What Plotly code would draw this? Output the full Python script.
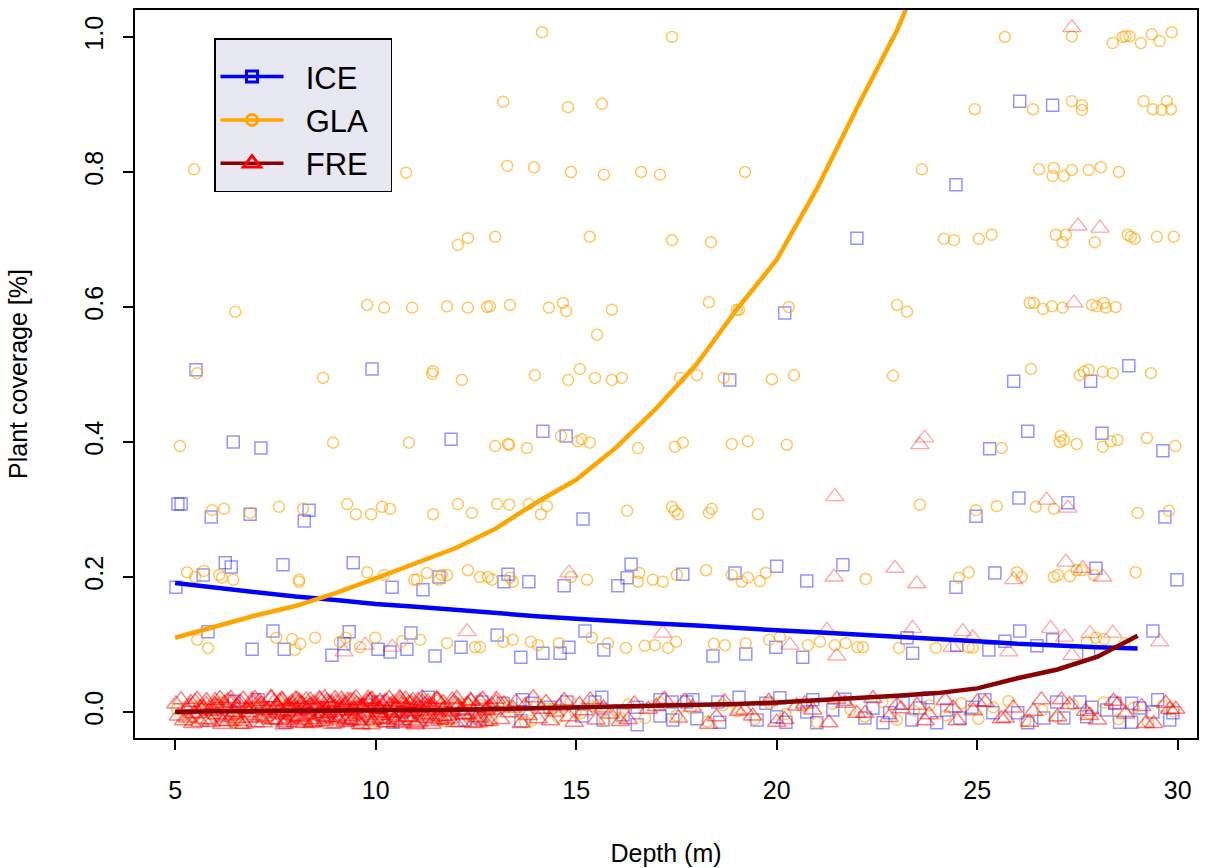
import plotly.graph_objects as go

# ---------------- data ----------------
# fitted model curves, evaluated at integer depths
fit_depth = list(range(5, 30))
ice_fit = [0.191, 0.184, 0.177, 0.171, 0.166, 0.160, 0.156, 0.151, 0.146, 0.142,
           0.138, 0.134, 0.131, 0.128, 0.124, 0.121, 0.118, 0.115, 0.112, 0.108,
           0.105, 0.101, 0.098, 0.096, 0.094]
gla_fit = [0.110, 0.127, 0.143, 0.157, 0.176, 0.198, 0.221, 0.243, 0.272, 0.310,
           0.344, 0.392, 0.450, 0.515, 0.596, 0.670, 0.775, 0.895, 1.010, 1.150,
           1.320, 1.510, 1.730, 1.980, 2.270]
fre_fit = [0.0005, 0.0007, 0.001, 0.0013, 0.0017, 0.0022, 0.003, 0.0035, 0.0045, 0.0055,
           0.0065, 0.0075, 0.0085, 0.010, 0.012, 0.014, 0.017, 0.020, 0.024, 0.028,
           0.035, 0.050, 0.063, 0.082, 0.113]

# ICE observations (above zero)
ice_depth = [26.06, 26.88, 24.47, 22.0, 20.20,
             5.52, 9.91, 18.83, 25.91, 27.83, 28.78,
             6.45, 7.14, 11.88, 14.17, 14.75, 25.31, 26.26, 28.11, 29.63,
             5.07, 5.15, 5.90, 6.87, 8.22, 8.34, 15.17, 24.97, 26.04, 27.26, 29.68,
             5.02, 5.70, 6.25, 6.40, 7.69, 9.44, 10.41, 11.18, 11.58, 13.20, 13.30, 13.82,
             14.70, 16.04, 16.27, 16.37, 17.66, 18.96, 20.0, 20.75, 21.65, 24.47, 25.44,
             27.96, 29.98,
             5.82, 6.92, 7.44, 7.72, 8.91, 9.34, 9.21, 10.06, 10.36, 10.78, 10.88, 11.48,
             12.13, 13.03, 13.62, 14.17, 14.60, 14.82, 15.22, 15.69, 18.41, 19.23, 19.98,
             20.65, 23.25, 23.39, 24.49, 25.29, 25.69, 26.06, 26.49, 26.88, 27.78, 29.38]
ice_cover = [0.905, 0.899, 0.781, 0.702, 0.591,
             0.507, 0.508, 0.492, 0.490, 0.490, 0.513,
             0.400, 0.391, 0.404, 0.416, 0.409, 0.390, 0.416, 0.413, 0.387,
             0.308, 0.308, 0.289, 0.293, 0.283, 0.299, 0.286, 0.290, 0.317, 0.310, 0.289,
             0.185, 0.203, 0.221, 0.215, 0.218, 0.221, 0.185, 0.181, 0.200, 0.193, 0.204, 0.193,
             0.187, 0.187, 0.199, 0.219, 0.204, 0.206, 0.216, 0.194, 0.218, 0.185, 0.206,
             0.213, 0.196,
             0.119, 0.093, 0.120, 0.093, 0.084, 0.119, 0.101, 0.093, 0.089, 0.093, 0.117, 0.083,
             0.096, 0.114, 0.081, 0.087, 0.087, 0.096, 0.120, 0.092, 0.083, 0.086, 0.096,
             0.081, 0.110, 0.087, 0.099, 0.092, 0.105, 0.120, 0.098, 0.107, 0.087, 0.120]
# ICE observations in the zero band
ice_depth_low = [6.47, 7.07, 7.74, 8.22, 8.66, 8.86, 9.39, 9.79, 10.06, 10.43, 10.68,
                 11.31, 11.73, 12.23, 12.60, 12.65, 13.18, 13.62, 13.67, 13.90, 14.35, 14.77,
                 15.14, 15.47, 15.64, 15.67, 16.17, 16.52, 16.52, 17.09, 17.09, 17.39, 17.41,
                 17.76, 17.91, 18.01, 18.58, 18.53, 19.06, 19.51, 19.73, 20.0, 20.08, 20.23,
                 20.75, 20.90, 21.0, 21.40, 21.70, 22.20, 22.40, 22.65, 22.82, 23.15, 23.37,
                 23.57, 23.77, 23.99, 24.24, 24.57, 24.87, 25.19, 25.39, 26.01, 26.26, 26.66,
                 26.98, 27.16, 27.56, 27.73, 27.86, 28.23, 28.43, 28.55, 28.85, 28.85, 29.05,
                 29.38, 29.50, 29.80, 29.88]
ice_cover_low = [0.016, 0.018, -0.015, 0.007, -0.004, 0.006, -0.009, 0.010, 0.015, -0.015, 0.0,
                 0.022, -0.004, -0.012, -0.009, 0.015, 0.013, -0.013, 0.018, 0.013, 0.007, 0.015,
                 -0.006, 0.015, 0.022, -0.012, -0.004, 0.007, -0.019, 0.018, -0.006, 0.015, -0.012,
                 0.015, 0.018, -0.010, -0.015, 0.015, 0.022, -0.012, 0.013, -0.007, 0.021, -0.015,
                 0.0, 0.018, -0.016, 0.003, 0.019, -0.009, 0.006, -0.016, -0.001, 0.013, -0.012,
                 0.006, 0.021, -0.016, 0.003, -0.009, 0.007, 0.018, -0.001, -0.001, -0.016, -0.009,
                 0.015, -0.009, 0.015, -0.007, 0.007, 0.003, 0.013, -0.015, 0.013, -0.015, 0.006,
                 0.0, 0.018, -0.012, -0.001]

# GLA observations (above zero)
gla_depth = [14.15, 17.39, 25.69, 27.36, 28.38, 28.63, 28.70, 28.80, 29.08, 29.35, 29.55, 29.85,
             13.18, 14.80, 15.64, 24.94, 26.39, 27.36, 27.61, 27.61, 29.15, 29.38, 29.60, 29.73, 29.83,
             5.47, 10.76, 13.28, 13.95, 14.87, 15.69, 16.62, 17.09, 19.21, 23.62, 26.54, 26.91,
             26.88, 27.16, 27.36, 27.78, 28.08, 28.53,
             12.05, 12.30, 12.98, 15.34, 17.39, 18.36, 24.17, 24.42, 25.04, 25.36, 26.96, 27.21,
             27.13, 27.93, 28.75, 28.83, 28.93, 29.48, 29.90,
             6.50, 9.79, 10.21, 10.91, 11.78, 12.30, 12.78, 12.85, 13.35, 14.32, 14.67, 14.75,
             15.89, 18.31, 19.01, 19.06, 20.30, 23.0, 23.25, 26.31, 26.41, 26.64, 26.86, 27.13,
             27.86, 27.98, 28.16, 28.21, 28.45, 15.52,
             5.55, 8.69, 11.41, 11.43, 12.15, 13.97, 14.80, 15.09, 15.47, 15.89, 16.14, 17.59,
             18.01, 18.68, 19.88, 20.43, 22.90, 26.34, 27.56, 27.66, 27.78, 28.13, 28.38, 29.33,
             5.12, 8.94, 10.83, 12.98, 13.33, 13.30, 13.77, 14.62, 15.04, 15.14, 15.34, 16.54,
             17.46, 17.66, 18.88, 19.28, 20.25, 25.61, 27.08, 27.16, 27.06, 27.48, 28.13, 28.33,
             28.50, 29.23, 29.94,
             5.92, 6.22, 6.87, 7.59, 8.19, 9.29, 9.51, 9.89, 10.16, 10.36, 11.43, 12.05, 12.40,
             13.03, 13.33, 13.82, 14.27, 14.12, 16.27, 17.39, 17.46, 17.54, 18.31, 18.38, 19.53,
             23.57, 24.97, 25.49, 26.46, 26.91, 29.0, 29.78,
             5.30, 5.50, 5.72, 6.10, 6.17, 6.45, 8.09, 8.09, 9.79, 10.21, 10.96, 11.03, 11.28,
             11.58, 11.65, 11.78, 12.30, 12.60, 12.80, 12.90, 13.35, 13.42, 14.87, 15.27, 16.57,
             16.54, 16.91, 17.16, 17.51, 18.24, 18.88, 19.13, 19.28, 19.58, 19.73, 22.22, 24.54,
             24.79, 25.99, 26.11, 26.91, 27.01, 27.31, 27.48, 27.61, 27.91, 28.95,
             5.55, 5.82, 7.52, 7.92, 7.99, 8.12, 8.49, 9.11, 9.26, 9.61, 9.99, 10.66, 11.11,
             11.78, 12.48, 12.60, 13.18, 13.42, 13.87, 14.05, 14.57, 15.39, 15.79, 16.24, 16.71,
             16.96, 17.29, 17.49, 18.43, 18.71, 19.23, 19.81, 20.08, 20.78, 21.08, 21.45, 21.72,
             22.02, 22.15, 23.05, 23.97, 24.79, 24.89, 27.73, 27.96, 28.16, 28.68]
gla_cover = [1.007, 1.0, 1.0, 1.001, 0.991, 1.0, 1.001, 1.001, 0.991, 1.004, 0.994, 1.007,
             0.904, 0.896, 0.901, 0.893, 0.893, 0.905, 0.899, 0.892, 0.905, 0.893, 0.892, 0.905, 0.893,
             0.804, 0.799, 0.809, 0.807, 0.800, 0.796, 0.800, 0.796, 0.800, 0.804, 0.804, 0.806,
             0.794, 0.794, 0.803, 0.803, 0.807, 0.800,
             0.692, 0.702, 0.704, 0.704, 0.699, 0.696, 0.701, 0.699, 0.701, 0.707, 0.707, 0.707,
             0.696, 0.696, 0.707, 0.704, 0.701, 0.704, 0.704,
             0.593, 0.603, 0.599, 0.599, 0.601, 0.599, 0.600, 0.601, 0.603, 0.599, 0.606, 0.594,
             0.596, 0.607, 0.596, 0.596, 0.600, 0.603, 0.593, 0.606, 0.606, 0.597, 0.601, 0.599,
             0.603, 0.601, 0.606, 0.599, 0.600, 0.559,
             0.502, 0.495, 0.501, 0.505, 0.492, 0.499, 0.492, 0.508, 0.495, 0.492, 0.495, 0.495,
             0.499, 0.495, 0.493, 0.499, 0.498, 0.508, 0.499, 0.504, 0.507, 0.504, 0.502, 0.502,
             0.394, 0.399, 0.399, 0.394, 0.396, 0.397, 0.391, 0.409, 0.401, 0.404, 0.399, 0.391,
             0.393, 0.399, 0.397, 0.401, 0.396, 0.391, 0.409, 0.403, 0.400, 0.397, 0.393, 0.401,
             0.403, 0.406, 0.394,
             0.299, 0.301, 0.295, 0.304, 0.301, 0.308, 0.293, 0.293, 0.304, 0.301, 0.293, 0.308, 0.295,
             0.308, 0.307, 0.308, 0.305, 0.293, 0.298, 0.304, 0.298, 0.293, 0.295, 0.301, 0.293,
             0.307, 0.299, 0.305, 0.304, 0.301, 0.295, 0.298,
             0.207, 0.200, 0.209, 0.203, 0.199, 0.196, 0.196, 0.193, 0.207, 0.203, 0.196, 0.196, 0.206,
             0.196, 0.203, 0.203, 0.210, 0.200, 0.200, 0.196, 0.199, 0.193, 0.200, 0.196, 0.206,
             0.193, 0.196, 0.193, 0.203, 0.210, 0.203, 0.193, 0.199, 0.194, 0.206, 0.197, 0.199,
             0.207, 0.207, 0.200, 0.200, 0.203, 0.201, 0.210, 0.210, 0.203, 0.207,
             0.107, 0.095, 0.110, 0.108, 0.092, 0.101, 0.110, 0.104, 0.110, 0.096, 0.110, 0.105, 0.107,
             0.102, 0.096, 0.096, 0.104, 0.107, 0.104, 0.099, 0.102, 0.110, 0.102, 0.095, 0.098,
             0.099, 0.095, 0.104, 0.101, 0.099, 0.102, 0.107, 0.111, 0.099, 0.104, 0.099, 0.102,
             0.096, 0.096, 0.095, 0.095, 0.096, 0.095, 0.104, 0.110, 0.108, 0.102]
# GLA observations in the zero band
gla_depth_low = [5.05, 5.33, 5.62, 5.90, 6.14, 6.47, 6.71, 7.03, 7.28, 7.60,
                 7.84, 8.12, 8.45, 8.70, 8.98, 9.25, 9.57, 9.83, 10.10, 10.38,
                 10.66, 10.93, 11.20, 11.52, 11.77, 12.05, 12.36, 12.62, 12.90, 13.17,
                 13.46, 13.73, 14.02, 14.30, 14.55, 14.86, 15.12, 15.40, 15.71, 15.96,
                 16.30, 16.72, 17.08, 17.50, 17.86, 18.27, 18.66, 19.02, 19.45, 19.83,
                 20.22, 20.64, 21.01, 21.40, 21.84, 22.20, 22.63, 23.00, 23.42, 23.80,
                 24.21, 24.60, 25.03, 25.40, 25.78, 26.20, 26.62, 27.00, 27.38, 27.77,
                 28.15, 28.52, 28.90, 29.26, 29.62, 29.90,
                 5.48, 6.02, 6.58, 7.15, 7.72, 8.28, 8.83, 9.40, 9.95, 10.52,
                 11.08, 11.63, 12.20, 12.75, 13.31, 13.88, 14.42, 14.98, 15.55, 16.10]
gla_cover_low = [0.004, -0.012, 0.010, -0.003, 0.014, -0.015, 0.001, 0.008, -0.009, 0.012,
                 -0.006, 0.015, -0.013, 0.003, 0.009, -0.002, -0.016, 0.011, 0.005, -0.010,
                 0.013, -0.007, 0.002, 0.016, -0.014, 0.007, -0.004, 0.010, -0.011, 0.014,
                 0.000, -0.015, 0.012, 0.005, -0.008, 0.015, -0.002, 0.009, -0.013, 0.003,
                 0.011, -0.009, 0.014, -0.005, 0.006, -0.014, 0.010, 0.001, -0.011, 0.013,
                 -0.003, 0.008, -0.016, 0.012, 0.004, -0.007, 0.015, -0.012, 0.002, 0.010,
                 -0.005, 0.013, -0.010, 0.007, 0.016, -0.013, 0.003, -0.008, 0.011, -0.002,
                 0.014, -0.011, 0.006, -0.015, 0.009, 0.001,
                 -0.007, 0.011, -0.012, 0.006, -0.002, 0.013, -0.009, 0.004, -0.014, 0.008,
                 0.001, -0.010, 0.012, -0.005, 0.009, -0.013, 0.005, -0.001, 0.010, -0.008]

# FRE observations (above zero)
fre_depth = [27.51, 28.06, 27.41, 23.57, 23.69, 21.45, 26.73, 27.26,
             14.82, 21.43, 22.95, 23.49, 25.91, 27.21, 27.63, 28.13,
             9.21, 9.74, 10.41, 12.28, 17.16, 20.33, 21.25, 21.50, 23.39, 24.37, 24.64,
             24.89, 25.79, 26.83, 27.18, 27.36, 27.81, 28.38, 29.55, 27.36]
fre_cover = [0.720, 0.717, 0.606, 0.396, 0.406, 0.319, 0.314, 0.302,
             0.206, 0.200, 0.213, 0.190, 0.196, 0.222, 0.213, 0.200,
             0.089, 0.099, 0.096, 0.119, 0.117, 0.099, 0.121, 0.083, 0.124, 0.096, 0.119,
             0.110, 0.089, 0.124, 0.111, 0.084, 0.116, 0.117, 0.104, 1.014]
# FRE observations in the zero band
fre_depth_low = [5.02, 5.08, 5.15, 5.21, 5.30, 5.36, 5.44, 5.50, 5.58, 5.63, 5.71, 5.78, 5.85,
                 5.90, 5.98, 6.05, 6.12, 6.20, 6.26, 6.33, 6.41, 6.48, 6.55, 6.62, 6.70, 6.78,
                 6.85, 6.93, 7.02, 7.10, 7.20, 7.30, 7.41,
                 7.50, 7.54, 7.59, 7.63, 7.68, 7.72, 7.77, 7.82, 7.86, 7.91, 7.95, 8.00, 8.04,
                 8.09, 8.14, 8.18, 8.23, 8.27, 8.32, 8.36, 8.41, 8.46, 8.50, 8.55, 8.60, 8.64,
                 8.69, 8.73, 8.78, 8.82, 8.87, 8.92, 8.96, 9.01, 9.05, 9.10, 9.15, 9.19, 9.24,
                 9.28, 9.33, 9.37, 9.42, 9.47, 9.51, 9.56, 9.60, 9.65, 9.70, 9.74, 9.79, 9.83,
                 9.88, 9.92, 9.97, 10.02, 10.06, 10.11, 10.15, 10.20, 10.25, 10.29, 10.34, 10.38,
                 10.43, 10.47, 10.52, 10.57, 10.61, 10.66, 10.70, 10.75, 10.80, 10.84, 10.89,
                 10.93, 10.98, 11.03, 11.07, 11.12, 11.16, 11.21, 11.26, 11.30, 11.35, 11.40, 11.45,
                 11.52, 11.60, 11.71, 11.80, 11.93, 12.02, 12.10, 12.22, 12.31, 12.40, 12.52,
                 12.60, 12.71, 12.83, 12.92, 13.01, 13.12, 13.20, 13.33, 13.42, 13.50, 13.63,
                 13.72, 13.80, 13.93, 14.05, 14.14, 14.25, 14.36, 14.47, 14.58, 14.70, 14.82,
                 14.95, 15.08, 15.20, 15.35, 15.50, 15.68, 15.85,
                 16.10, 16.45, 16.80, 17.20, 17.55, 17.90, 18.30, 18.70, 19.05, 19.40, 19.80,
                 20.20, 20.50, 20.90, 21.30, 21.70, 22.00, 22.40, 22.80, 23.10, 23.50, 23.80,
                 24.20, 24.50, 24.90, 25.20, 25.60, 25.90, 26.30, 26.60, 27.00, 27.30, 27.70,
                 28.00, 28.40, 28.70, 29.10, 29.40, 29.70, 29.95,
                 6.03, 6.17, 6.31, 6.44, 6.58, 6.72, 6.86, 6.99, 7.13, 7.27, 7.38, 7.47, 7.56,
                 7.65, 7.74, 7.83, 7.92, 8.01, 8.10, 8.19, 8.28, 8.37, 8.46, 8.55, 8.64, 8.73,
                 8.82, 8.91, 9.00, 9.09, 9.18, 9.27, 9.36, 9.45, 9.54, 9.63, 9.72, 9.81, 9.90,
                 9.99, 10.08, 10.17, 10.26, 10.35, 10.44, 10.53, 10.62, 10.71, 10.80, 10.89,
                 10.98, 11.07, 11.16, 11.25, 11.34, 11.43, 11.55, 11.68, 11.84, 12.00, 12.18,
                 12.37, 12.56, 12.77, 13.00,
                 16.30, 17.00, 17.70, 18.50, 19.20, 20.00, 20.70, 21.50, 22.20, 23.00, 23.70,
                 24.40, 25.00, 25.70, 26.40, 27.10, 27.80, 28.50, 29.20, 29.80,
                 5.31, 5.39, 5.47, 5.55, 5.62, 5.70, 5.77, 5.85, 5.93, 6.00,
                 6.08, 6.16, 6.23, 6.31, 6.39, 6.46, 6.54, 6.62, 6.69, 6.77,
                 6.85, 6.92, 7.00, 7.08, 7.15, 7.23, 7.31, 7.38, 7.46, 7.54,
                 7.61, 7.69, 7.77, 7.84, 7.92, 8.00, 8.07, 8.15, 8.23, 8.30,
                 8.38, 8.46, 8.53, 8.61, 8.69, 8.76, 8.84, 8.92, 8.99, 9.07,
                 9.15, 9.22, 9.30, 9.38, 9.45, 9.53, 9.61, 9.68, 9.76, 9.84,
                 9.91, 9.99, 10.07, 10.14, 10.22, 10.30, 10.37, 10.45, 10.53, 10.60,
                 10.68, 10.76, 10.83, 10.91, 10.99, 11.06, 11.14, 11.22, 11.29, 11.37,
                 11.45, 11.52, 11.60, 11.68, 11.75, 11.83, 11.91, 11.98, 12.06, 12.14,
                 12.21, 12.29, 12.37, 12.44, 12.52, 12.60, 12.67, 12.75, 12.83, 12.90]
fre_cover_low = [0.012, -0.006, 0.018, -0.013, 0.003, 0.009, -0.017, 0.015, -0.002, 0.006,
                 -0.011, 0.017, 0.001, -0.015, 0.011, -0.004, 0.020, -0.008, 0.007, -0.014,
                 0.014, -0.001, 0.008, -0.018, 0.019, 0.004, -0.009, 0.013, -0.005, 0.016,
                 -0.016, 0.005, 0.021, -0.003, 0.010, -0.012, 0.002, 0.017, -0.019, 0.008,
                 0.000, -0.010, 0.015, 0.006, -0.016, 0.019, -0.007, 0.011, 0.003, -0.013,
                 0.018, -0.004, 0.009, -0.017, 0.013, 0.001, -0.011, 0.020, -0.006, 0.005,
                 -0.014, 0.016, -0.002, 0.011, -0.018, 0.007, 0.014, -0.009, 0.002, 0.019,
                 0.006, -0.015, 0.012, -0.007, 0.017, -0.012, 0.004, 0.021, -0.003, 0.009,
                 -0.019, 0.010, 0.001, 0.015, -0.008, 0.018, -0.013, 0.005, 0.012, -0.001,
                 0.016, -0.010, 0.008, -0.016, 0.003, 0.020, -0.005, 0.013, -0.011, 0.007,
                 -0.002, 0.014, -0.017, 0.010, 0.019, -0.007, 0.004, -0.013, 0.017, 0.000,
                 0.011, -0.015, 0.006, 0.021, -0.009, 0.002, 0.015, -0.004, -0.018, 0.009,
                 0.018, -0.012, 0.005, -0.006, 0.013, 0.020, -0.016, 0.001, 0.010, -0.003,
                 -0.008, 0.016, -0.014, 0.007, 0.003, 0.019, -0.011, 0.012, -0.001, 0.006,
                 0.015, -0.017, 0.009, -0.005, 0.021, -0.010, 0.004, 0.014, -0.013, 0.000,
                 0.008, 0.017, -0.007, -0.015, 0.011, 0.002, 0.018, -0.012, 0.006, -0.003,
                 -0.014, 0.012, 0.004, 0.019, -0.009, 0.007, -0.018, 0.015, 0.001, -0.006,
                 0.016, -0.011, 0.009, 0.003, -0.016, 0.013, -0.002, 0.020, -0.008, 0.005,
                 0.010, -0.004, 0.017, -0.013, 0.002, 0.014, -0.010, 0.006, -0.015, 0.018,
                 -0.007, 0.011, 0.001, -0.012, 0.016, -0.003, 0.008, -0.017, 0.013, 0.004,
                 0.009, -0.014, 0.017, -0.004, 0.012, -0.018, 0.005, 0.020, -0.009, 0.002,
                 -0.012, 0.015, -0.001, 0.019, -0.016, 0.007, 0.011, -0.006, 0.016, -0.011,
                 0.003, 0.018, -0.015, 0.010, -0.003, 0.021, -0.008, 0.013, -0.017, 0.006,
                 0.014, -0.010, 0.001, 0.017, -0.013, 0.008, -0.005, 0.020, -0.019, 0.011,
                 0.004, -0.012, 0.016, -0.002, 0.009, -0.015, 0.019, 0.000, -0.008, 0.013,
                 -0.017, 0.007, 0.015, -0.006, 0.010, -0.014, 0.018, 0.002, -0.010, 0.012,
                 -0.004, 0.017, -0.016, 0.005, 0.014,
                 -0.011, 0.008, 0.016, -0.007, 0.003, -0.015, 0.012, 0.019, -0.002, 0.010,
                 -0.013, 0.006, 0.015, -0.009, 0.001, 0.018, -0.005, 0.011, -0.017, 0.004,
                 -0.009, 0.014, -0.003, 0.019, -0.015, 0.006, 0.011, -0.012, 0.002, 0.017,
                 0.008, -0.018, 0.013, -0.006, 0.020, 0.000, -0.010, 0.015, -0.014, 0.004,
                 -0.001, 0.018, -0.016, 0.009, 0.012, -0.007, 0.003, 0.021, -0.011, 0.007,
                 0.016, -0.004, -0.013, 0.010, 0.001, 0.019, -0.008, 0.013, -0.017, 0.005,
                 0.011, -0.015, 0.006, 0.018, -0.002, -0.009, 0.014, 0.000, 0.020, -0.012,
                 -0.006, 0.009, 0.017, -0.014, 0.003, 0.012, -0.018, 0.007, -0.001, 0.016,
                 0.019, -0.011, 0.004, -0.005, 0.015, -0.016, 0.010, 0.002, -0.008, 0.021,
                 -0.013, 0.006, 0.013, 0.001, -0.019, 0.017, -0.003, 0.011, 0.008, -0.010,
                 0.005, 0.020, -0.007, 0.014, -0.012, 0.000, 0.018, -0.015, 0.009, 0.003,
                 -0.004, 0.012, 0.016, -0.017, 0.007, -0.009, 0.019, 0.002, -0.014, 0.010]

x_ticks = [5, 10, 15, 20, 25, 30]
y_ticks = [0.0, 0.2, 0.4, 0.6, 0.8, 1.0]
y_ticktext = ["0.0", "0.2", "0.4", "0.6", "0.8", "1.0"]
legend_names = ["ICE", "GLA", "FRE"]

# ---------------- figure ----------------
BLUE = "#0000FF"
ORANGE = "#FFA500"
RED = "#FF0000"
DARKRED = "#8B0000"
NB = "\u00a0"

fig = go.Figure()

fig.add_trace(go.Scatter(
    x=ice_depth + ice_depth_low, y=ice_cover + ice_cover_low, mode="markers",
    showlegend=False, hoverinfo="skip",
    marker=dict(symbol="square-open", size=12, color="rgba(0,0,255,0.42)",
                line=dict(width=1.5, color="rgba(0,0,255,0.42)"))))
fig.add_trace(go.Scatter(
    x=gla_depth + gla_depth_low, y=gla_cover + gla_cover_low, mode="markers",
    showlegend=False, hoverinfo="skip",
    marker=dict(symbol="circle-open", size=11, color="rgba(255,165,0,0.62)",
                line=dict(width=1.5, color="rgba(255,165,0,0.62)"))))
fig.add_trace(go.Scatter(
    x=fre_depth, y=fre_cover, mode="markers",
    showlegend=False, hoverinfo="skip",
    marker=dict(symbol="triangle-up-open", size=16, color="rgba(255,0,0,0.35)",
                line=dict(width=1.3, color="rgba(255,0,0,0.35)"))))
fig.add_trace(go.Scatter(
    x=fre_depth_low, y=fre_cover_low, mode="markers",
    showlegend=False, hoverinfo="skip",
    marker=dict(symbol="triangle-up-open", size=16, color="rgba(255,0,0,0.5)",
                line=dict(width=1.5, color="rgba(255,0,0,0.5)"))))

fig.add_trace(go.Scatter(x=fit_depth, y=ice_fit, mode="lines", showlegend=False,
                         line=dict(color=BLUE, width=4.5)))
fig.add_trace(go.Scatter(x=fit_depth, y=gla_fit, mode="lines", showlegend=False,
                         line=dict(color=ORANGE, width=4.5)))
fig.add_trace(go.Scatter(x=fit_depth, y=fre_fit, mode="lines", showlegend=False,
                         line=dict(color=DARKRED, width=4.5)))

# legend entries
fig.add_trace(go.Scatter(x=[None], y=[None], mode="lines+markers",
                         name=NB * 2 + legend_names[0] + NB * 2,
                         line=dict(color=BLUE, width=3.5),
                         marker=dict(symbol="square-open", size=11, color=BLUE,
                                     line=dict(width=3, color=BLUE))))
fig.add_trace(go.Scatter(x=[None], y=[None], mode="lines+markers",
                         name=NB * 2 + legend_names[1] + NB * 2,
                         line=dict(color=ORANGE, width=3.5),
                         marker=dict(symbol="circle-open", size=11, color=ORANGE,
                                     line=dict(width=3, color=ORANGE))))
fig.add_trace(go.Scatter(x=[None], y=[None], mode="lines+markers",
                         name=NB * 2 + legend_names[2] + NB * 2,
                         line=dict(color=DARKRED, width=3.5),
                         marker=dict(symbol="triangle-up-open", size=15, color=RED,
                                     line=dict(width=3, color=RED))))

FONT = "Liberation Sans, Arial, sans-serif"
fig.update_layout(
    width=1211, height=868,
    margin=dict(l=135, r=14, t=10, b=130),
    plot_bgcolor="white", paper_bgcolor="white",
    font=dict(family=FONT, size=25, color="black"),
    showlegend=True,
    legend=dict(x=0.0744, y=0.9615, xanchor="left", yanchor="top",
                bgcolor="#E8E8F2", bordercolor="black", borderwidth=1.5,
                font=dict(family=FONT, size=31, color="black"),
                title=dict(text=NB, font=dict(size=8)),
                itemwidth=63, tracegroupgap=0, itemsizing="trace"),
)
fig.update_xaxes(
    range=[4.0, 30.48], tickvals=x_ticks, ticks="outside", ticklen=10, tickwidth=1.5,
    tickcolor="black", showline=True, mirror=True, linecolor="black", linewidth=1.5,
    showgrid=False, zeroline=False, ticklabelstandoff=19, automargin=False,
    tickfont=dict(family=FONT, size=25),
    title=dict(text="Depth (m)", standoff=42, font=dict(family=FONT, size=25)))
fig.update_yaxes(
    range=[-0.0385, 1.04], tickvals=y_ticks, ticktext=y_ticktext, tickangle=-90,
    ticks="outside", ticklen=10, tickwidth=1.5, tickcolor="black",
    showline=True, mirror=True, linecolor="black", linewidth=1.5,
    showgrid=False, zeroline=False, ticklabelstandoff=10, automargin=False,
    tickfont=dict(family=FONT, size=25),
    title=dict(text="Plant coverage [%]", standoff=46, font=dict(family=FONT, size=25)))

fig.write_html("out.html")
